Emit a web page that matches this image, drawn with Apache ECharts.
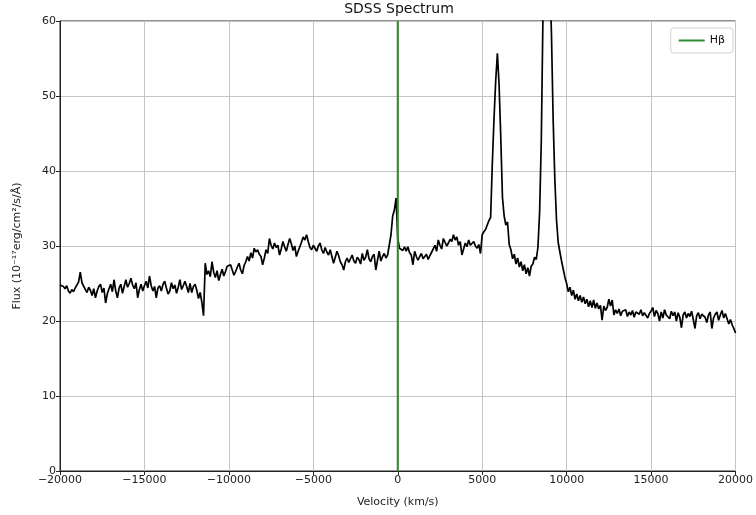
<!DOCTYPE html>
<html>
<head>
<meta charset="utf-8">
<script src="https://cdn.jsdelivr.net/npm/echarts@6/dist/echarts.min.js"></script>
<style>html,body{margin:0;padding:0;background:#fff}#c{width:756px;height:515px}</style>
</head>
<body>
<div id="c"></div>
<script>
var velocity = [
-20000,-19900,-19800,-19700,-19600,-19500,-19400,-19300,-19200,-19100,
-19000,-18900,-18800,-18700,-18600,-18500,-18400,-18300,-18200,-18100,
-18000,-17900,-17800,-17700,-17600,-17500,-17400,-17300,-17200,-17100,
-17000,-16900,-16800,-16700,-16600,-16500,-16400,-16300,-16200,-16100,
-16000,-15900,-15800,-15700,-15600,-15500,-15400,-15300,-15200,-15100,
-15000,-14900,-14800,-14700,-14600,-14500,-14400,-14300,-14200,-14100,
-14000,-13900,-13800,-13700,-13600,-13500,-13400,-13300,-13200,-13100,
-13000,-12900,-12800,-12700,-12600,-12500,-12400,-12300,-12200,-12100,
-12000,-11900,-11800,-11700,-11600,-11500,-11400,-11300,-11200,-11100,
-11000,-10900,-10800,-10700,-10600,-10500,-10400,-10300,-10200,-10100,
-10000,-9900,-9800,-9700,-9600,-9500,-9400,-9300,-9200,-9100,
-9000,-8900,-8800,-8700,-8600,-8500,-8400,-8300,-8200,-8100,
-8000,-7900,-7800,-7700,-7600,-7500,-7400,-7300,-7200,-7100,
-7000,-6900,-6800,-6700,-6600,-6500,-6400,-6300,-6200,-6100,
-6000,-5900,-5800,-5700,-5600,-5500,-5400,-5300,-5200,-5100,
-5000,-4900,-4800,-4700,-4600,-4500,-4400,-4300,-4200,-4100,
-4000,-3900,-3800,-3700,-3600,-3500,-3400,-3300,-3200,-3100,
-3000,-2900,-2800,-2700,-2600,-2500,-2400,-2300,-2200,-2100,
-2000,-1900,-1800,-1700,-1600,-1500,-1400,-1300,-1200,-1100,
-1000,-900,-800,-700,-600,-500,-400,-300,-200,-100,
0,100,200,300,400,500,600,700,800,900,
1000,1100,1200,1300,1400,1500,1600,1700,1800,1900,
2000,2100,2200,2300,2400,2500,2600,2700,2800,2900,
3000,3100,3200,3300,3400,3500,3600,3700,3800,3900,
4000,4100,4200,4300,4400,4500,4600,4700,4800,4900,
5000,5100,5200,5300,5400,5500,5600,5700,5800,5900,
6000,6100,6200,6300,6400,6500,6600,6700,6800,6900,
7000,7100,7200,7300,7400,7500,7600,7700,7800,7900,
8000,8100,8200,8300,8400,8500,8600,8700,8800,8900,
9000,9100,9200,9300,9400,9500,9600,9700,9800,9900,
10000,10100,10200,10300,10400,10500,10600,10700,10800,10900,
11000,11100,11200,11300,11400,11500,11600,11700,11800,11900,
12000,12100,12200,12300,12400,12500,12600,12700,12800,12900,
13000,13100,13200,13300,13400,13500,13600,13700,13800,13900,
14000,14100,14200,14300,14400,14500,14600,14700,14800,14900,
15000,15100,15200,15300,15400,15500,15600,15700,15800,15900,
16000,16100,16200,16300,16400,16500,16600,16700,16800,16900,
17000,17100,17200,17300,17400,17500,17600,17700,17800,17900,
18000,18100,18200,18300,18400,18500,18600,18700,18800,18900,
19000,19100,19200,19300,19400,19500,19600,19700,19800,19900,20000
];
var flux = [
24.8,25.0,24.6,24.3,24.7,24.0,23.7,24.2,23.9,24.4,
24.6,25.2,26.5,25.1,24.9,24.2,23.8,24.5,24.1,23.4,
24.3,23.1,24.0,24.6,24.9,23.8,24.4,22.4,23.6,24.3,
24.9,23.9,25.5,24.0,23.1,24.4,24.9,23.7,24.6,25.5,
24.5,25.0,25.7,24.8,24.3,25.1,23.1,24.2,24.9,24.0,
24.7,25.3,24.4,26.0,24.7,24.0,24.6,23.1,24.4,24.7,
24.0,24.9,25.3,24.4,23.6,24.0,25.1,24.3,24.8,23.7,
24.5,25.5,24.2,24.7,25.3,24.6,23.8,25.0,23.8,24.6,
24.9,24.1,23.0,23.8,22.5,20.7,27.7,26.2,26.7,25.9,
27.9,26.5,25.8,26.7,25.4,26.2,26.9,26.0,26.6,27.3,
27.3,27.5,26.8,26.1,26.6,27.2,27.7,26.8,26.3,27.4,
27.9,28.6,28.0,29.1,28.4,29.7,29.2,29.5,28.9,28.6,
27.5,28.4,29.5,29.0,31.0,30.1,29.6,30.4,29.8,30.1,
28.8,29.6,30.6,29.9,29.3,30.2,31.0,30.3,29.4,30.0,
28.6,29.3,29.9,30.5,31.2,30.8,31.5,30.6,29.8,29.5,
30.1,29.7,29.3,30.0,30.4,29.5,29.0,29.8,29.2,28.8,
29.5,28.6,27.7,28.5,29.3,28.7,27.9,27.5,26.8,27.9,
28.4,27.8,28.3,28.8,28.0,27.7,28.5,28.2,27.6,29.0,
28.1,28.5,29.5,28.3,27.9,28.6,28.9,26.8,28.1,29.3,
28.0,28.6,29.0,28.4,28.8,28.9,31.5,34.0,34.8,36.4,
31.0,29.7,29.9,29.4,29.9,29.3,29.9,29.1,28.8,27.5,
29.3,28.6,28.1,28.6,29.0,28.3,28.4,28.9,28.2,28.7,
28.8,29.6,30.1,29.3,30.8,30.1,29.6,31.0,30.5,30.0,
30.4,30.9,30.6,31.5,30.8,31.2,30.1,30.6,28.8,29.6,
30.4,29.9,30.8,30.1,30.3,30.6,30.0,29.7,30.2,29.0,
31.5,31.9,32.2,32.8,33.4,33.8,41.0,47.0,52.0,55.7,
51.5,44.5,36.5,34.0,32.8,33.2,30.2,29.5,28.3,28.9,
27.6,28.4,27.2,27.9,26.7,27.5,26.3,27.1,26.0,27.3,
27.6,28.5,28.2,29.8,34.5,44.0,61.0,74.0,82.0,80.0,
66.0,58.5,47.0,39.0,33.5,30.5,29.2,28.0,26.9,25.8,
25.0,23.9,24.5,23.4,24.1,22.9,23.6,22.7,23.4,22.5,
23.2,22.3,22.9,21.9,22.7,21.8,22.8,21.7,22.4,21.6,
22.1,20.1,22.0,21.4,21.8,22.9,22.0,22.8,20.8,21.5,
21.0,21.6,20.7,21.3,21.1,21.5,20.6,21.2,20.8,21.4,
20.5,21.2,21.0,20.9,21.5,20.7,21.1,21.3,20.4,21.0,
21.3,21.8,20.6,21.4,21.0,20.0,21.2,20.4,21.5,20.8,
21.0,20.3,21.3,20.7,21.2,20.0,21.1,20.5,19.1,20.8,
21.2,20.4,21.0,20.6,21.3,20.2,19.0,20.7,21.1,20.3,
20.9,21.0,20.5,19.8,20.8,21.2,19.0,20.4,20.9,21.2,
20.1,20.8,21.4,20.4,21.0,20.3,19.6,20.2,19.5,19.0,18.4
];
var hbetaVelocity = 0;
var xTicks = [-20000, 20000, 5000];
var yTicks = [0, 60, 10];

var spectrum = velocity.map(function (v, i) { return [v, flux[i]]; });
var hbLine = [[hbetaVelocity, yTicks[0]], [hbetaVelocity, yTicks[1]]];

var chart = echarts.init(document.getElementById('c'), null, {renderer: 'canvas'});
var font = 'DejaVu Sans';
chart.setOption({
  animation: false,
  textStyle: {fontFamily: font},
  grid: {left: 60, right: 18, top: 21, bottom: 44, show: true, borderColor: '#222', borderWidth: 1, backgroundColor: 'transparent'},
  graphic: [{
    type: 'text', x: 399, y: 9,
    style: {text: 'SDSS Spectrum', font: '14px "DejaVu Sans"', fill: '#111', align: 'center', verticalAlign: 'middle'}
  }],
  legend: {
    data: ['Hβ'], right: 23, top: 28, orient: 'vertical',
    icon: 'rect', itemWidth: 26, itemHeight: 2, itemGap: 6,
    textStyle: {fontSize: 11, color: '#111', fontFamily: font},
    borderColor: '#d0d0d0', borderWidth: 1, borderRadius: 3, padding: [7, 8, 7, 8],
    backgroundColor: '#fff'
  },
  xAxis: {
    type: 'value', min: xTicks[0], max: xTicks[1], interval: xTicks[2],
    name: 'Velocity (km/s)', nameLocation: 'middle', nameGap: 26,
    nameTextStyle: {fontSize: 11, color: '#222', fontFamily: font},
    axisLine: {show: true, onZero: false, lineStyle: {color: '#222', width: 1}},
    axisTick: {show: true, inside: false, length: 4, lineStyle: {color: '#222'}},
    axisLabel: {fontSize: 11, color: '#222', margin: 4, fontFamily: font,
      formatter: function (v) { return String(v).replace('-', '\u2212'); }},
    splitLine: {show: true, lineStyle: {color: '#c4c4c4', width: 1}}
  },
  yAxis: {
    type: 'value', min: yTicks[0], max: yTicks[1], interval: yTicks[2],
    name: 'Flux (10\u207B\u00B9\u2077erg/cm\u00B2/s/\u00C5)', nameLocation: 'middle', nameGap: 37,
    nameTextStyle: {fontSize: 11, color: '#222', fontFamily: font},
    axisLine: {show: true, onZero: false, lineStyle: {color: '#222', width: 1}},
    axisTick: {show: true, inside: false, length: 4, lineStyle: {color: '#222'}},
    axisLabel: {fontSize: 11, color: '#222', margin: 4, fontFamily: font},
    splitLine: {show: true, lineStyle: {color: '#c4c4c4', width: 1}}
  },
  series: [
    {
      name: 'Spectrum', type: 'line', data: spectrum, showSymbol: false, symbol: 'none',
      clip: true, lineStyle: {color: '#000', width: 1.7}, itemStyle: {color: '#000'}, z: 3
    },
    {
      name: 'Hβ', type: 'line', data: hbLine, showSymbol: false, symbol: 'none',
      clip: true, lineStyle: {color: '#2e8b2e', width: 2}, itemStyle: {color: '#2e8b2e'}, z: 4
    }
  ]
});
</script>
</body>
</html>
